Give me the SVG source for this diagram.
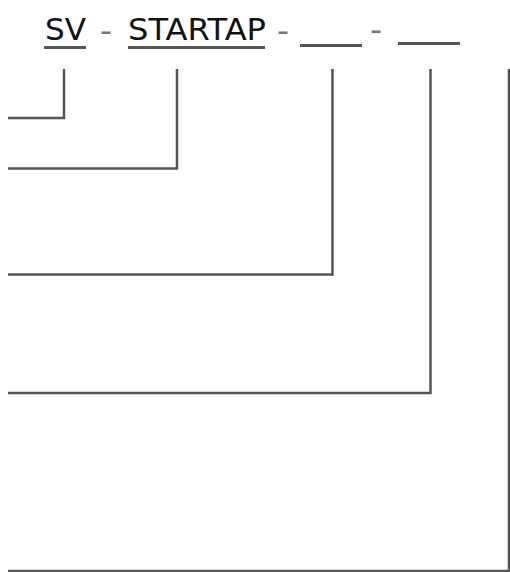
<svg xmlns="http://www.w3.org/2000/svg" width="510" height="572" viewBox="0 0 510 572">
<style>
.t{font-family:"DejaVu Sans","Liberation Sans",sans-serif;font-size:31px;fill:#111}
.d{font-family:"Liberation Sans","DejaVu Sans",sans-serif;font-size:32px;fill:#777}
.u{stroke:#555;stroke-width:3;fill:none}
.c{stroke:#555;stroke-width:2.5;fill:none}
</style>
<rect width="510" height="572" fill="#fff"/>
<g id="title">
<text class="t" x="45" y="40" textLength="41" lengthAdjust="spacingAndGlyphs">SV</text>
<line class="u" x1="44" y1="47.5" x2="86" y2="47.5"/>
<text class="d" x="100" y="41" textLength="12" lengthAdjust="spacingAndGlyphs">-</text>
<text class="t" x="128" y="40" textLength="138" lengthAdjust="spacingAndGlyphs">STARTAP</text>
<line class="u" x1="128" y1="47.5" x2="265" y2="47.5"/>
<text class="d" x="277" y="41" textLength="12" lengthAdjust="spacingAndGlyphs">-</text>
<line class="u" x1="300" y1="45.5" x2="362" y2="45.5"/>
<text class="d" x="370" y="40" textLength="12" lengthAdjust="spacingAndGlyphs">-</text>
<line class="u" x1="398" y1="43.5" x2="460" y2="43.5"/>
</g>
<g id="connectors">
<polyline class="c" points="64,69 64,118 8,118"/>
<polyline class="c" points="177,69 177,168.5 8,168.5"/>
<polyline class="c" points="332.5,69 332.5,274.5 8,274.5"/>
<polyline class="c" points="430.5,69 430.5,393 8,393"/>
<polyline class="c" points="509,69 509,571 8,571"/>
</g>
</svg>
